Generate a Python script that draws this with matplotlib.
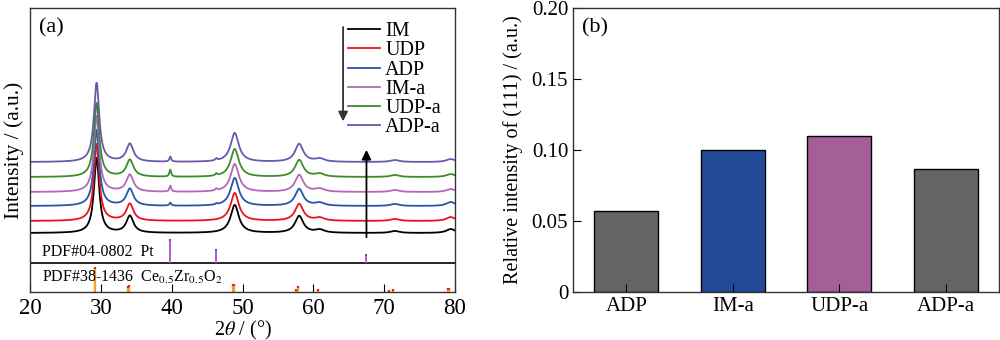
import numpy as np
import matplotlib.pyplot as plt

plt.rcParams['font.family'] = ['Liberation Serif', 'DejaVu Serif']
plt.rcParams['mathtext.fontset'] = 'stix'
plt.rcParams['font.size'] = 14

# ---- panel (a): XRD patterns ----
samples = ["IM", "UDP", "ADP", "IM-a", "UDP-a", "ADP-a"]
colors = ["#000000", "#e8141c", "#2457a8", "#b268b8", "#3c8c2c", "#6a58ad"]
baselines = [59, 71, 86, 100, 115, 130]

# Ce0.5Zr0.5O2 reflections: position, FWHM
cz_pos = [29.4, 34.1, 48.9, 58.0, 60.9, 71.5, 79.4]
cz_fwhm = [0.9, 1.2, 1.4, 1.4, 1.6, 1.5, 1.5]
cz_height = [
    [75, 17, 28, 17, 3, 2, 4],   # IM
    [77, 17, 28, 17, 3, 2, 4],   # UDP
    [76, 17, 28, 17, 3, 2, 4],   # ADP
    [76, 17, 28, 17, 3, 2, 3],   # IM-a
    [74, 17, 28, 17, 3, 2, 3],   # UDP-a
    [79, 18, 29, 18, 3, 2, 3],   # ADP-a
]
# Pt reflections
pt_pos = [39.8, 46.3]
pt_fwhm = [0.3, 0.3]
pt_height = [
    [0, 0], [0, 0], [3, 1], [6, 2], [7, 2], [5, 2],
]

# reference cards
pt_ref_pos = [39.8, 46.3, 67.5]
pt_ref_h = [24, 14, 9]
cz_ref_pos = [29.2, 33.8, 34.0, 48.6, 48.75, 57.5, 57.8, 60.6, 70.7, 71.3, 79.0, 79.2]
cz_ref_h = [25, 6, 7, 8, 8, 3, 6, 3, 2, 3, 4, 4]

# ---- panel (b): relative intensity ----
bar_labels = ["ADP", "IM-a", "UDP-a", "ADP-a"]
bar_values = [0.057, 0.100, 0.110, 0.087]
bar_colors = ["#646464", "#214b97", "#a45f98", "#646464"]


def lorentz(x, x0, w):
    return 1.0 / (1.0 + ((x - x0) / (w / 2.0)) ** 2)


fig = plt.figure(figsize=(10, 3.4), dpi=100)
ax1 = fig.add_axes([0.030, 0.141, 0.425, 0.835])
ax2 = fig.add_axes([0.573, 0.141, 0.426, 0.835])

x = np.linspace(20, 80, 3000)
lines = []
for i in range(len(samples)):
    y = np.full_like(x, baselines[i], dtype=float)
    for p, w, h in zip(cz_pos, cz_fwhm, cz_height[i]):
        y += h * lorentz(x, p, w)
    for p, w, h in zip(pt_pos, pt_fwhm, pt_height[i]):
        y += h * lorentz(x, p, w)
    ln, = ax1.plot(x, y, color=colors[i], lw=1.3, label=samples[i])
    lines.append(ln)

div = 29
ax1.axhline(div, color='black', lw=1.2)
pt_top = [div + h for h in pt_ref_h]
ax1.vlines(pt_ref_pos, div, pt_top, color="#b660bd", lw=1.4)
ax1.vlines(pt_ref_pos, [t - 1.5 for t in pt_top], pt_top, color="#3a5fc0", lw=1.4)
ax1.vlines(cz_ref_pos, 0, cz_ref_h, color="#f5a024", lw=1.6)
ax1.vlines(cz_ref_pos, [h - 1.5 for h in cz_ref_h], cz_ref_h, color="#e8201c", lw=1.6)

ax1.text(21.7, 40, "PDF#04-0802  Pt", fontsize=11.5, va='center')
ax1.text(21.7, 15, r"PDF#38-1436  Ce$_{0.5}$Zr$_{0.5}$O$_2$", fontsize=11.5, va='center')
ax1.text(0.02, 0.93, "(a)", transform=ax1.transAxes, fontsize=16, va='center')

ax1.annotate("", xy=(64.2, 168), xytext=(64.2, 268),
             arrowprops=dict(arrowstyle='-|>', color='#333333', lw=1.3, mutation_scale=14))
ax1.annotate("", xy=(67.5, 145), xytext=(67.5, 52),
             arrowprops=dict(arrowstyle='-|>', color='black', lw=1.3, mutation_scale=14))

ax1.legend(handles=lines, loc='upper right', bbox_to_anchor=(1.0, 1.0), frameon=False,
           fontsize=14.5, handlelength=1.6, handletextpad=0.25, labelspacing=0.0,
           borderaxespad=0.3)

ax1.set_xlim(20, 80)
ax1.set_ylim(0, 284)
ax1.set_yticks([])
ax1.set_xticks(range(20, 81, 10))
ax1.tick_params(axis='x', direction='in', length=6, labelsize=16.5, pad=4)
ax1.set_xlabel(r"2$\mathit{\theta}$ / (°)", fontsize=14.5, labelpad=0)
ax1.set_ylabel("Intensity / (a.u.)", fontsize=15.5, labelpad=4)
for s in ax1.spines.values():
    s.set_linewidth(1.0)
    s.set_color('#333333')

pos = np.arange(len(bar_labels))
ax2.bar(pos, bar_values, width=0.6, color=bar_colors, edgecolor='black', lw=1.0)
ax2.set_xlim(-0.5, 3.5)
ax2.set_ylim(0, 0.20)
ax2.set_xticks(pos)
ax2.set_xticklabels(bar_labels)
ax2.set_yticks([0, 0.05, 0.10, 0.15, 0.20])
ax2.set_yticklabels(["0", "0.05", "0.10", "0.15", "0.20"])
ax2.tick_params(direction='in', length=6, labelsize=15)
ax2.set_ylabel("Relative intensity of (111) / (a.u.)", fontsize=14.5, labelpad=6)
ax2.text(0.02, 0.93, "(b)", transform=ax2.transAxes, fontsize=16, va='center')
for s in ax2.spines.values():
    s.set_linewidth(1.0)
    s.set_color('#333333')

fig.savefig("out.png", dpi=100)
